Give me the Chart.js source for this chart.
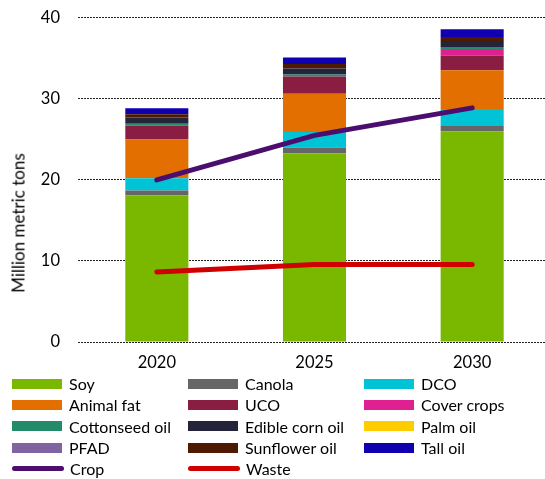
<!DOCTYPE html>
<html>
<head>
<meta charset="utf-8">
<script src="https://cdn.jsdelivr.net/npm/chart.js@4"></script>
<style>
    body { margin: 0; background: #fff; overflow: hidden; width: 545px; height: 479px; position: relative; font-family: Lato, 'Noto Sans', sans-serif; }
    #wrap { position: absolute; left: 0; top: -10px; width: 551px; height: 385px; }
    #ytitle { position: absolute; left: 18px; top: 223px; transform: translate(-50%, -50%) rotate(-90deg); font-size: 17px; white-space: nowrap; color: #000; }
    #legend { position: absolute; left: 12px; top: 373px; display: grid; grid-template-columns: 176px 176px 176px; grid-auto-rows: 21.3px; font-size: 16px; color: #000; }
    .item { display: flex; align-items: center; }
    .sw { width: 50px; height: 10px; margin-right: 7px; flex: none; }
    .ln { width: 52px; height: 5px; border-radius: 3px; margin-right: 6px; flex: none; }
</style>
</head>
<body>
<div id="wrap"><canvas id="chart" width="551" height="385"></canvas></div>
<div id="ytitle">Million metric tons</div>
<div id="legend"></div>
<script>
document.addEventListener('DOMContentLoaded', function() {

    const years = ['2020', '2025', '2030'];

    const soy        = [18.1, 23.3, 26.0];
    const canola     = [0.6, 0.7, 0.65];
    const dco        = [1.5, 1.93, 2.1];
    const animalFat  = [4.8, 4.72, 4.8];
    const uco        = [1.7, 2.13, 1.8];
    const coverCrops = [0, 0, 0.8];
    const cottonseed = [0.25, 0.22, 0.25];
    const edibleCorn = [0.75, 0.77, 0.75];
    const palmOil    = [0, 0, 0];
    const pfad       = [0, 0, 0];
    const sunflower  = [0.4, 0.53, 0.5];
    const tallOil    = [0.75, 0.8, 0.95];

    const crop  = [20.0, 25.5, 28.9];
    const waste = [8.65, 9.55, 9.55];

    const yTicks = [0, 10, 20, 30, 40];

    const bars = [
        { label: 'Soy', data: soy, color: '#7ab800' },
        { label: 'Canola', data: canola, color: '#666666' },
        { label: 'DCO', data: dco, color: '#00c4d6' },
        { label: 'Animal fat', data: animalFat, color: '#e36f00' },
        { label: 'UCO', data: uco, color: '#8a1d42' },
        { label: 'Cover crops', data: coverCrops, color: '#e01f90' },
        { label: 'Cottonseed oil', data: cottonseed, color: '#238a6a' },
        { label: 'Edible corn oil', data: edibleCorn, color: '#23233a' },
        { label: 'Palm oil', data: palmOil, color: '#ffcc00' },
        { label: 'PFAD', data: pfad, color: '#8064a2' },
        { label: 'Sunflower oil', data: sunflower, color: '#4d1a00' },
        { label: 'Tall oil', data: tallOil, color: '#1000b0' }
    ];

    const lines = [
        { label: 'Crop', data: crop, color: '#4b0e6e' },
        { label: 'Waste', data: waste, color: '#d00000' }
    ];

    const datasets = bars.map(b => ({
        type: 'bar',
        label: b.label,
        data: b.data,
        backgroundColor: b.color,
        borderWidth: 0,
        categoryPercentage: 1,
        barPercentage: 0.4,
        order: 2
    })).concat(lines.map(l => ({
        type: 'line',
        label: l.label,
        data: l.data,
        borderColor: l.color,
        backgroundColor: l.color,
        borderWidth: 5,
        borderCapStyle: 'round',
        pointRadius: 0,
        tension: 0,
        stack: l.label,
        order: 1
    })));

    new Chart(document.getElementById('chart').getContext('2d'), {
        data: { labels: years, datasets: datasets },
        options: {
            responsive: false,
            animation: false,
            layout: { padding: { top: 7, right: 0, left: 0, bottom: 0 } },
            plugins: { legend: { display: false }, tooltip: { enabled: false } },
            scales: {
                x: {
                    stacked: true,
                    grid: { display: false, drawTicks: false },
                    border: { display: false },
                    ticks: { color: '#000', padding: 11, font: { family: 'Lato', size: 16.5 } },
                    afterFit: s => { s.height = 33; }
                },
                y: {
                    stacked: true,
                    min: 0,
                    max: 40,
                    afterBuildTicks: s => { s.ticks = yTicks.map(v => ({ value: v })); },
                    grid: { color: '#222', lineWidth: 1, drawTicks: false },
                    border: { display: false, dash: [2, 1] },
                    ticks: { color: '#000', padding: 18, font: { family: 'Lato', size: 16.5 } },
                    afterFit: s => { s.width = 78; }
                }
            }
        }
    });

    const legend = document.getElementById('legend');
    bars.forEach(b => {
        legend.insertAdjacentHTML('beforeend',
            '<div class="item"><span class="sw" style="background:' + b.color + '"></span>' + b.label + '</div>');
    });
    lines.forEach(l => {
        legend.insertAdjacentHTML('beforeend',
            '<div class="item"><span class="ln" style="background:' + l.color + '"></span>' + l.label + '</div>');
    });
});
</script>
</body>
</html>
